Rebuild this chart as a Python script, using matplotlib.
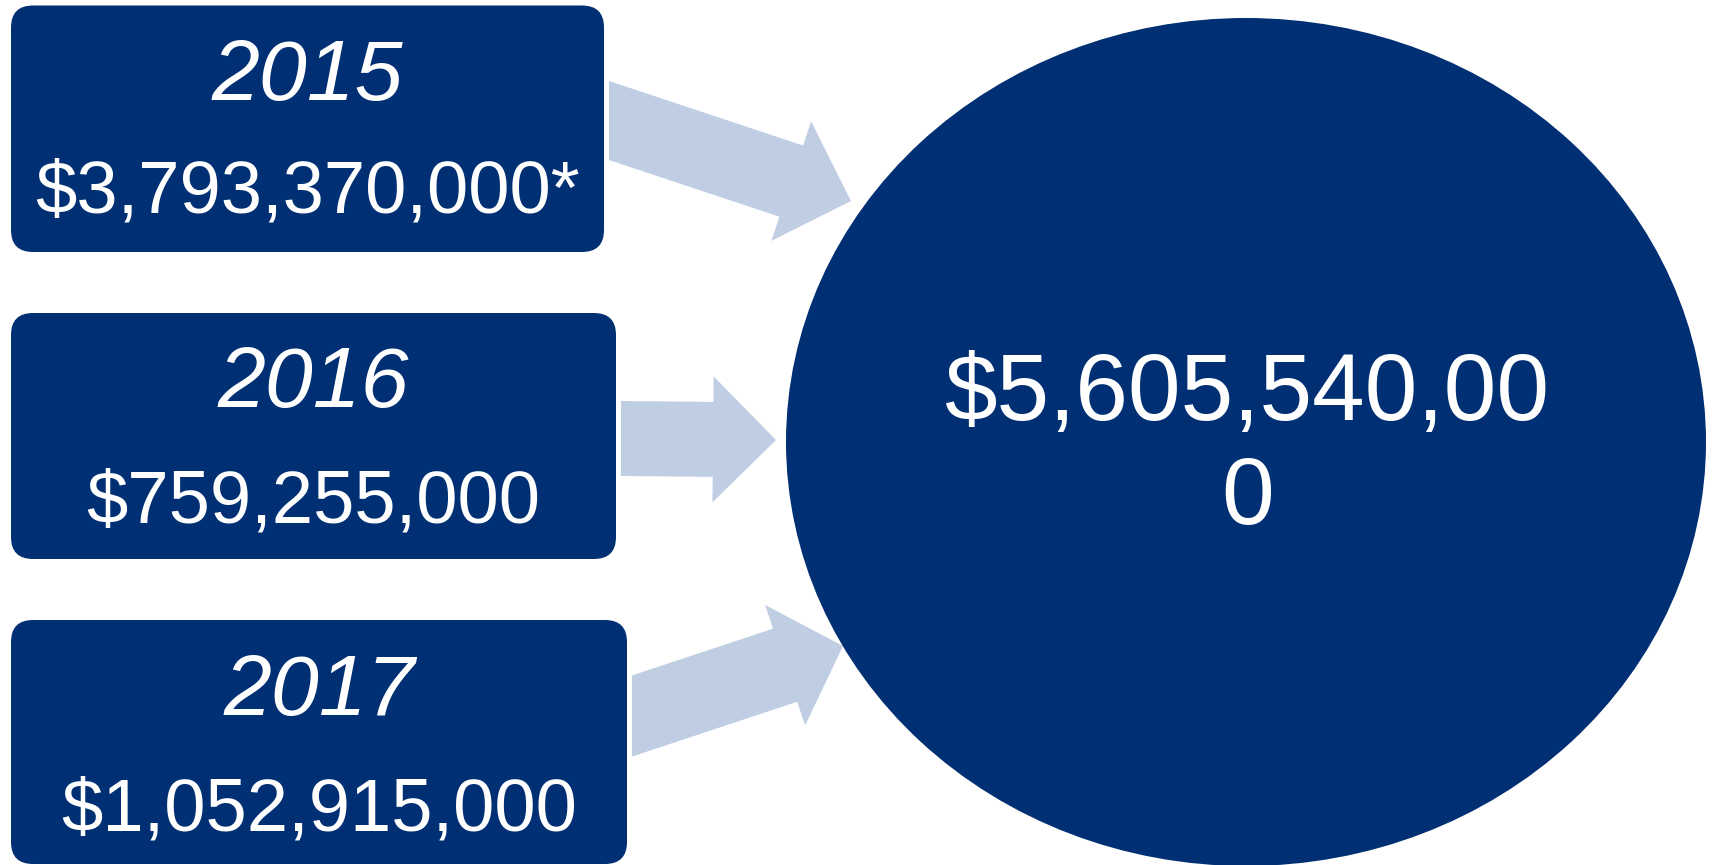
import numpy as np
import matplotlib
matplotlib.use("Agg")
import matplotlib.pyplot as plt
from matplotlib.patches import FancyBboxPatch, Ellipse, Polygon

# ---- data ----
years = ["2015", "2016", "2017"]
amounts = [3793370000, 759255000, 1052915000]
notes = ["*", "", ""]
total = sum(amounts)

# ---- layout (pixel coordinates, y downward) ----
W, H = 1712, 865
NAVY = "#002F73"
LIGHT = "#BFCEE2"

box_x0 = [11, 11, 11]
box_x1 = [604, 616, 627]
box_y0 = [5.5, 313, 620]
box_y1 = [252, 559, 864]
year_base = [100, 407, 715]
amt_base = [213, 522, 830]

# arrows: tail x, tail center y, tip x, tip y
arr_tail = [(609, 120.5), (621, 438.5), (632, 716)]
arr_tip = [(851, 201), (776, 440), (843, 646)]
shaft_w = [75, 75, 77]
head_w = [126, 126, 127]
head_l = [63, 63, 61]

circ_c = (1246, 442)
circ_w, circ_h = 920, 848

fig = plt.figure(figsize=(W / 100, H / 100), dpi=100)
ax = fig.add_axes([0, 0, 1, 1])
ax.set_xlim(0, W)
ax.set_ylim(H, 0)
ax.axis("off")

FONT = "Liberation Sans"


def arrow_poly(tail, tip, sw, hw, hl):
    t = np.array(tail, float)
    p = np.array(tip, float)
    d = p - t
    L = np.linalg.norm(d)
    u = d / L
    n = np.array([-u[1], u[0]])
    base = p - hl * u
    pts = []
    # tail corners: on vertical line x = tail x
    for s in (1, -1):
        off = s * sw / 2 * n
        # line through base+off in direction u; intersect with x = t[0]
        q = base + off
        k = (t[0] - q[0]) / u[0]
        pts.append(q + k * u)
    a1, a2 = pts
    verts = [a1, base + sw / 2 * n, base + hw / 2 * n, p,
             base - hw / 2 * n, base - sw / 2 * n, a2]
    return verts


for i in range(3):
    ax.add_patch(Polygon(arrow_poly(arr_tail[i], arr_tip[i], shaft_w[i], head_w[i], head_l[i]),
                         closed=True, facecolor=LIGHT, edgecolor="none", zorder=1))

for i in range(3):
    bx = FancyBboxPatch((box_x0[i], box_y0[i]), box_x1[i] - box_x0[i], box_y1[i] - box_y0[i],
                        boxstyle="round,pad=0,rounding_size=22",
                        facecolor=NAVY, edgecolor="none", zorder=2)
    ax.add_patch(bx)
    cx = (box_x0[i] + box_x1[i]) / 2
    ax.text(cx, year_base[i], years[i], color="white", fontsize=62, fontstyle="italic",
            family=FONT, ha="center", va="baseline", zorder=3)
    ax.text(cx, amt_base[i], f"${amounts[i]:,}{notes[i]}", color="white", fontsize=53.5,
            family=FONT, ha="center", va="baseline", zorder=3)

ax.add_patch(Ellipse(circ_c, circ_w, circ_h, facecolor=NAVY, edgecolor="none", zorder=2))
tot = f"${total:,}"
ax.text(1248, 420, tot[:-1], color="white", fontsize=68, family=FONT,
        ha="center", va="baseline", zorder=3)
ax.text(1248, 524, tot[-1], color="white", fontsize=68, family=FONT,
        ha="center", va="baseline", zorder=3)

fig.savefig("out.png", dpi=100, facecolor="white")
